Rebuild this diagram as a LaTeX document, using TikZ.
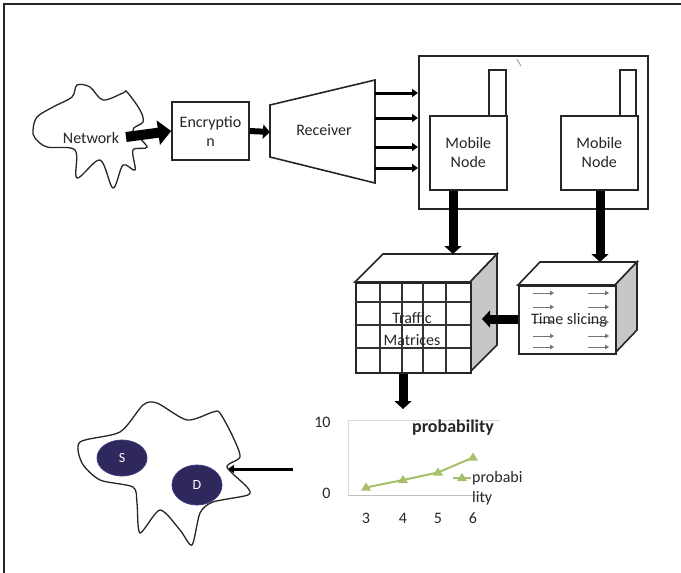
\documentclass[tikz,border=0pt]{standalone}
\usepackage{fontspec}
\setmainfont{Carlito}
\usetikzlibrary{arrows.meta,shapes.geometric}
\definecolor{txt}{HTML}{262626}
\definecolor{navy}{RGB}{47,40,92}
\definecolor{olive}{HTML}{A6BF6A}
\tikzset{
  box/.style={draw=black!85, line width=1.6pt, fill=white, text=txt, align=center, font=\fontsize{16}{19}\selectfont},
  lbl/.style={text=txt, align=center, font=\fontsize{16}{19}\selectfont},
  outline/.style={draw=black!85, line width=1.6pt},
  bigarrow/.style={line width=10pt, -{Triangle[length=13pt,width=24pt]}},
  midarrow/.style={line width=9pt, -{Triangle[length=8pt,width=17pt]}},
  medarrow/.style={line width=6pt, -{Triangle[length=7pt,width=14pt]}},
  thinarrow/.style={line width=3pt, -{Triangle[length=6pt,width=8pt]}},
  tinyarrow/.style={draw=black!55, line width=0.9pt, -{Triangle[length=4pt,width=4.5pt]}},
  blob/.style={fill=navy, draw={rgb,255:red,60;green,60;blue,130}, line width=0.8pt, text=white, font=\fontsize{14}{16}\selectfont, ellipse}
}
\begin{document}
\begin{tikzpicture}[x=1pt,y=-1pt]
\useasboundingbox (0,0) rectangle (681,573);
% frame
\draw[line width=2.5pt, black!85] (4,573) -- (4,4) -- (681,4);

% network cloud
\draw[outline, line width=1.3pt, fill=white] plot[smooth cycle, tension=0.55] coordinates {
 (33,130) (37,117) (53,107) (72,97) (77,85) (90,87) (103,100) (123,93) (127,92)
 (140,110) (143,122) (133,130) (147,147) (133,150) (135,170) (123,165) (113,188)
 (100,160) (77,178) (75,150) (47,147) (35,138)};
\node[lbl] (net) at (91,138) {Network};
\coordinate (netout) at (126,137);

% encryption
\node[box, minimum width=77pt, minimum height=58pt, inner sep=1pt] (enc) at (210.5,131) {Encryptio\\n};

% receiver
\coordinate (r1) at (270,105);
\coordinate (r2) at (375,80);
\coordinate (r3) at (375,183);
\coordinate (r4) at (270,157);
\draw[outline, fill=white] (r1) -- (r2) -- (r3) -- (r4) -- cycle;
\node[lbl] (rec) at (324,130) {Receiver};
\coordinate (recin) at (270,132);

\draw[bigarrow] (netout) -- (enc.west);
\draw[medarrow] (enc.east) -- (recin);

% mobile enclosure
\node[box, minimum width=229pt, minimum height=153pt, anchor=north west, inner sep=0pt] (mbox) at (418,55) {};
\draw[black!45, line width=0.8pt] (517,59) -- (521,66);

\foreach \y/\n in {93/a,118/b,147/c,168/d}{
  \coordinate (o\n) at (375,\y);
  \coordinate (i\n) at (418,\y);
  \draw[thinarrow] (o\n) -- (i\n);
}

% mobile nodes
\draw[outline] (489,115) -- (489,70) -- (506,70) -- (506,115);
\draw[outline] (620,115) -- (620,70) -- (636,70) -- (636,115);
\node[box, minimum width=77pt, minimum height=74pt, anchor=north west, inner sep=0pt] (mn1) at (429,115) {Mobile\\Node};
\node[box, minimum width=77pt, minimum height=74pt, anchor=north west, inner sep=0pt] (mn2) at (560,115) {Mobile\\Node};

% traffic matrices cube
\draw[outline, fill=white] (355,282) -- (383,254) -- (497,254) -- (470,282) -- cycle;
\draw[outline, fill=black!22] (470,282) -- (497,254) -- (497,345) -- (470,372) -- cycle;
\node[box, minimum width=115pt, minimum height=90pt, anchor=north west, inner sep=0pt] (tm) at (355,282) {};
\foreach \x in {380,402,423,446} \draw[black!80, line width=1.1pt] (\x,282) -- (\x,372);
\foreach \y in {302,325,348} \draw[black!80, line width=1.1pt] (355,\y) -- (470,\y);
\node[lbl] at (412,318) {Traffic};
\node[lbl] at (412,340) {Matrices};
\coordinate (tmin) at (482,319);
\coordinate (tmtop) at (453,254);
\coordinate (tsin) at (600,262);

% time slicing cube
\draw[outline, fill=white] (518,285) -- (540,262) -- (637,262) -- (615,285) -- cycle;
\draw[outline, fill=black!22] (615,285) -- (637,262) -- (637,330) -- (615,353) -- cycle;
\node[box, minimum width=97pt, minimum height=68pt, anchor=north west, inner sep=0pt] (ts) at (518,285) {};
\foreach \y in {293,307,322,336,347}{
  \draw[tinyarrow] (533,\y) -- (554,\y);
  \draw[tinyarrow] (588,\y) -- (609,\y);
}
\node[lbl] (tstext) at (569,320) {Time slicing};

% arrows down and left
\draw[midarrow] (mn1.south -| tmtop) -- (tmtop);
\draw[midarrow] (mn2.south -| tsin) -- (tsin);
\draw[midarrow] (ts.west |- tmin) -- (tmin);
\coordinate (chartin) at (403,409);
\draw[midarrow] (tm.south -| chartin) -- (chartin);

% chart
\draw[black!15, line width=0.8pt] (348,420) -- (500,420);
\draw[black!15, line width=0.8pt] (348,420) -- (348,495);
\draw[black!25, line width=0.8pt] (348,495) -- (488,495);
\node[lbl, anchor=east] (y10) at (334,422) {10};
\node[lbl, anchor=east] (y0) at (334,493) {0};
\foreach \x/\t in {366/3,403/4,438/5,473/6} \node[lbl] at (\x,518) {\t};
\node[text=txt, font=\fontsize{18}{20}\selectfont\bfseries] (title) at (453,428) {probability};
\draw[olive, line width=2pt] (366,487.5) -- (403,480) -- (438,472.5) -- (473,457.5);
\foreach \x/\y in {366/487.5,403/480,438/472.5,473/457.5}
  \fill[olive] (\x,\y-5) -- (\x+5,\y+3) -- (\x-5,\y+3) -- cycle;
\draw[olive, line width=2pt] (453,478) -- (471,478);
\fill[olive] (462,473) -- (467,481) -- (457,481) -- cycle;
\node[lbl, anchor=west, inner sep=0pt] (lg1) at (472,478) {probabi};
\node[lbl, anchor=west, inner sep=0pt] (lg2) at (472,498) {lity};

% amoeba
\draw[outline, line width=1.3pt, fill=white] plot[smooth cycle, tension=0.45] coordinates {
 (80,442) (120,432) (143,405) (157,403) (187,420) (213,412) (220,413) (233,437)
 (240,457) (227,467) (247,487) (248,495) (213,502) (200,513) (192,545) (180,530)
 (160,510) (140,533) (137,503) (133,487) (100,480) (82,463)};
\node[blob, minimum width=50pt, minimum height=36pt, inner sep=0pt] (S) at (122,458) {S};
\node[blob, minimum width=50pt, minimum height=40pt, inner sep=0pt] (D) at (197,485) {D};
\coordinate (amin) at (228,469);
\coordinate (amout) at (293,469);
\draw[line width=3pt, -{Triangle[length=6pt,width=8pt]}] (amout) -- (amin);
\end{tikzpicture}
\end{document}
